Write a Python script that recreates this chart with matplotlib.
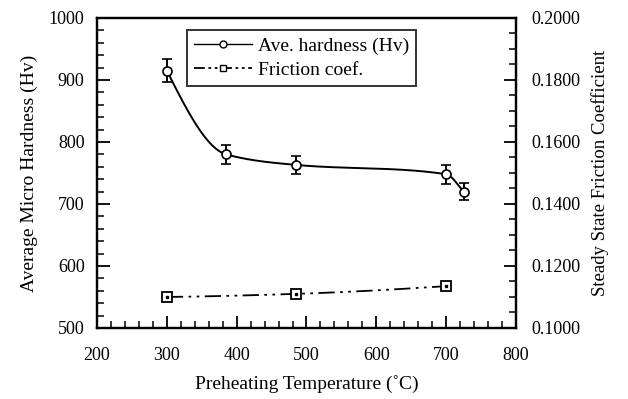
import numpy as np
import matplotlib
matplotlib.use("Agg")
import matplotlib.pyplot as plt
from matplotlib.ticker import MultipleLocator, FormatStrFormatter
from matplotlib.lines import Line2D

plt.rcParams['font.family'] = ['Liberation Serif', 'DejaVu Serif']

# Data
temp_hard = [300, 385, 485, 700, 725]
hardness = [915, 780, 763, 748, 720]
hard_err = [18, 15, 15, 15, 14]
temp_fric = [300, 485, 700]
friction = [0.1100, 0.1110, 0.1135]


def pchip(x, y, xs):
    x = np.asarray(x, float); y = np.asarray(y, float)
    h = np.diff(x); d = np.diff(y) / h
    n = len(x)
    m = np.zeros(n)
    for k in range(1, n - 1):
        if d[k - 1] * d[k] > 0:
            w1 = 2 * h[k] + h[k - 1]; w2 = h[k] + 2 * h[k - 1]
            m[k] = (w1 + w2) / (w1 / d[k - 1] + w2 / d[k])
    def end(h0, h1, d0, d1):
        v = ((2 * h0 + h1) * d0 - h0 * d1) / (h0 + h1)
        if np.sign(v) != np.sign(d0):
            v = 0
        elif np.sign(d0) != np.sign(d1) and abs(v) > abs(3 * d0):
            v = 3 * d0
        return v
    if n > 2:
        m[0] = end(h[0], h[1], d[0], d[1])
        m[-1] = end(h[-1], h[-2], d[-1], d[-2])
    else:
        m[:] = d[0]
    out = np.empty_like(xs, dtype=float)
    for i, xv in enumerate(xs):
        k = min(max(np.searchsorted(x, xv) - 1, 0), n - 2)
        t = (xv - x[k]) / h[k]
        h00 = 2 * t**3 - 3 * t**2 + 1; h10 = t**3 - 2 * t**2 + t
        h01 = -2 * t**3 + 3 * t**2; h11 = t**3 - t**2
        out[i] = h00 * y[k] + h10 * h[k] * m[k] + h01 * y[k + 1] + h11 * h[k] * m[k + 1]
    return out


fig = plt.figure(figsize=(6.28, 3.99), dpi=100)
ax = fig.add_axes([0.1545, 0.178, 0.667, 0.777])
ax2 = ax.twinx()

xs = np.linspace(temp_hard[0], temp_hard[-1], 300)
ax.plot(xs, pchip(temp_hard, hardness, xs), color='black', lw=1.4)
ax.errorbar(temp_hard, hardness, yerr=hard_err, fmt='o', mfc='white', mec='black',
            ms=6.5, mew=1.2, ecolor='black', elinewidth=1.4, capsize=3.5, capthick=1.4)

xf = np.linspace(temp_fric[0], temp_fric[-1], 200)
ax2.plot(xf, pchip(temp_fric, friction, xf), color='black', lw=1.3,
         ls=(0, (9, 3, 1.5, 3, 1.5, 3)))
ax2.plot(temp_fric, friction, ls='none', marker='s', mfc='white', mec='black', ms=6.5, mew=1.3)
ax2.plot(temp_fric, friction, ls='none', marker='s', mfc='black', mec='black', ms=1.5)

ax.set_xlim(200, 800)
ax.set_ylim(500, 1000)
ax2.set_ylim(0.1, 0.2)

ax.xaxis.set_major_locator(MultipleLocator(100))
ax.xaxis.set_minor_locator(MultipleLocator(20))
ax.yaxis.set_major_locator(MultipleLocator(100))
ax.yaxis.set_minor_locator(MultipleLocator(20))
ax2.yaxis.set_major_locator(MultipleLocator(0.02))
ax2.yaxis.set_minor_locator(MultipleLocator(0.005))
ax2.yaxis.set_major_formatter(FormatStrFormatter('%.4f'))

for a in (ax, ax2):
    a.tick_params(which='major', direction='in', length=9, width=1.3, labelsize=13)
    a.tick_params(which='minor', direction='in', length=5, width=1.1)
    for s in a.spines.values():
        s.set_linewidth(1.6)
ax.tick_params(top=False, which='both')
ax.tick_params(axis='x', pad=14)
ax.tick_params(axis='y', pad=9)
ax2.tick_params(axis='y', pad=11)

ax.set_xlabel('Preheating Temperature (˚C)', fontsize=14, labelpad=8)
ax.set_ylabel('Average Micro Hardness (Hv)', fontsize=14, labelpad=8)
ax2.set_ylabel('Steady State Friction Coefficient', fontsize=13.5, labelpad=8)

h1 = Line2D([], [], color='black', lw=1.0, marker='o', mfc='white', mec='black', ms=5)
h2 = Line2D([], [], color='black', lw=1.3, ls=(0, (6, 2, 1.5, 2, 1.5, 2)), marker='s',
            mfc='white', mec='black', ms=5)
leg = ax.legend([h1, h2], ['Ave. hardness (Hv)', 'Friction coef.'], loc='upper left',
                bbox_to_anchor=(0.215, 0.96), fontsize=14, frameon=True, fancybox=False,
                edgecolor='black', borderpad=0.35, labelspacing=0.35, handlelength=3.0,
                handletextpad=0.3, borderaxespad=0)
leg.get_frame().set_linewidth(1.4)
ax.set_zorder(ax2.get_zorder() + 1)
ax.patch.set_visible(False)

fig.savefig('out.png', dpi=100)
